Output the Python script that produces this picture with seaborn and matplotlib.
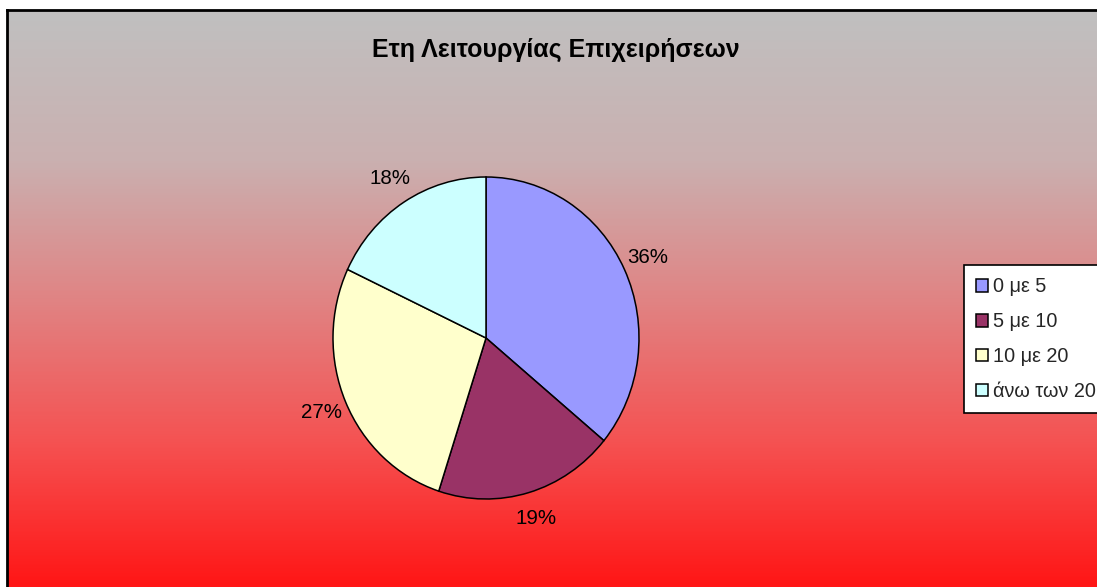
import numpy as np
import matplotlib
matplotlib.use("Agg")
import matplotlib.pyplot as plt
from matplotlib.colors import LinearSegmentedColormap
import seaborn as sns

# Data
categories = ["0 με 5", "5 με 10", "10 με 20", "άνω των 20"]
shares = [36, 19, 27, 18]
title_text = "Ετη Λειτουργίας Επιχειρήσεων"

sns.set_style("white")
plt.rcParams["font.family"] = ["Liberation Sans", "DejaVu Sans"]

palette = sns.color_palette(["#9999FF", "#993366", "#FFFFCC", "#CCFFFF"])

W, H = 1097, 587
fig = plt.figure(figsize=(W / 100, H / 100), dpi=100)
fig.patch.set_facecolor("white")

# Chart area with vertical gray-to-red gradient
left_px, top_px = 7, 10
bg = fig.add_axes([left_px / W, 0, 1 - left_px / W, (H - top_px) / H])
grad_cmap = LinearSegmentedColormap.from_list(
    "area",
    [(0.00, (192/255, 192/255, 192/255)),
     (0.26, (202/255, 176/255, 176/255)),
     (0.50, (224/255, 132/255, 132/255)),
     (0.75, (245/255, 82/255, 82/255)),
     (1.00, (255/255, 22/255, 22/255))])
grad = np.linspace(0, 1, 400).reshape(-1, 1)
bg.imshow(grad, aspect="auto", cmap=grad_cmap, extent=[0, 1, 0, 1], origin="upper")
bg.set_xticks([]); bg.set_yticks([])
for side in ("left", "top"):
    bg.spines[side].set_color("black")
    bg.spines[side].set_linewidth(2.0)
for side in ("right", "bottom"):
    bg.spines[side].set_visible(False)

fig.text(556 / W, 1 - 50 / H, title_text, ha="center", va="center",
         fontsize=18, fontweight="bold", color="black")

# Pie (slightly taller than wide)
cx, cy, rx, ry = 486, 338, 153, 161
lim = 1.3
ax = fig.add_axes([(cx - rx * lim) / W, (H - cy - ry * lim) / H,
                   2 * rx * lim / W, 2 * ry * lim / H])
wedges, _, autotexts = ax.pie(
    shares, colors=palette, startangle=90, counterclock=False,
    autopct="%1.0f%%", pctdistance=1.17,
    wedgeprops=dict(edgecolor="black", linewidth=1.1),
    textprops=dict(fontsize=14.8, color="black"))
ax.set_aspect("auto")
ax.set_xlim(-lim, lim)
ax.set_ylim(-lim, lim)
ax.axis("off")

leg = fig.legend(wedges, categories, loc="upper left",
                 bbox_to_anchor=(964 / W, 1 - 265 / H),
                 frameon=True, fancybox=False, framealpha=1,
                 edgecolor="black", facecolor="white",
                 fontsize=14.3, handlelength=0.6, handleheight=0.6,
                 handletextpad=0.25, labelspacing=0.8, borderpad=0.62,
                 borderaxespad=0)
leg.get_frame().set_linewidth(1.2)

fig.savefig("out.png", dpi=100)
